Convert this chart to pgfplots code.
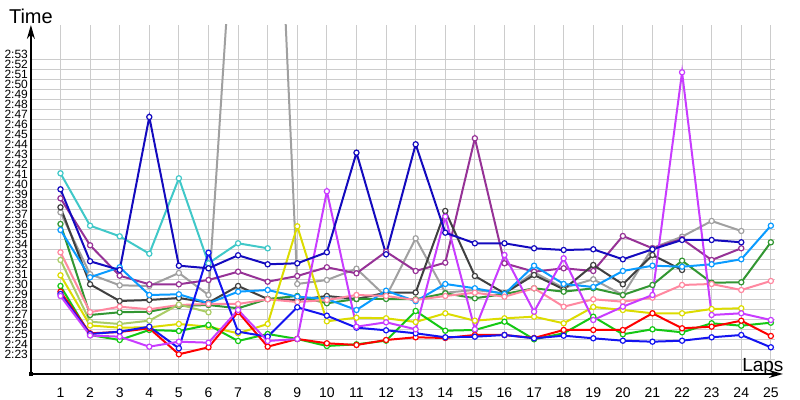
\documentclass[border=0pt]{standalone}
\usepackage{pgfplots}
\pgfplotsset{compat=1.18}
\usepackage{fontspec}
\setmainfont{Liberation Sans}
\usetikzlibrary{arrows.meta}
\definecolor{scyan}{RGB}{64,200,200}
\definecolor{snavy}{RGB}{20,10,190}
\definecolor{spurple}{RGB}{150,50,150}
\definecolor{slgray}{RGB}{160,160,160}
\definecolor{sdgray}{RGB}{64,64,64}
\definecolor{sdgreen}{RGB}{50,150,50}
\definecolor{slblue}{RGB}{10,155,255}
\definecolor{spink}{RGB}{255,136,160}
\definecolor{sygreen}{RGB}{170,204,102}
\definecolor{syellow}{RGB}{220,220,0}
\definecolor{sbgreen}{RGB}{20,200,20}
\definecolor{sred}{RGB}{255,0,0}
\definecolor{sblue}{RGB}{20,20,240}
\definecolor{smag}{RGB}{200,60,255}
\begin{document}
\begin{tikzpicture}
\begin{axis}[
  at={(0,0)}, anchor=south west, name=ax,
  scale only axis, width=372.2pt, height=174.5pt,
  xmin=0, xmax=25.15, ymin=21.6, ymax=56.5,
  axis line style={draw=none},
  /pgf/number format/assume math mode=true,
  xtick={1,...,25}, ytick={23,...,53},
  yticklabels={2:23,2:24,2:25,2:26,2:27,2:28,2:29,2:30,2:31,2:32,2:33,2:34,2:35,2:36,2:37,2:38,2:39,2:40,2:41,2:42,2:43,2:44,2:45,2:46,2:47,2:48,2:49,2:50,2:51,2:52,2:53},
  tick style={draw=none},
  grid=major, major grid style={draw=black!20, line width=0.5pt},
  xticklabel style={font=\fontsize{7}{8}\selectfont, yshift=-3.3pt},
  yticklabel style={font=\fontsize{6}{7}\selectfont, anchor=base east, inner sep=0pt, xshift=-1.3pt, yshift=0.85pt},
  every axis plot/.append style={line width=1pt, mark=*, mark size=1.3pt, mark options={fill=white, line width=0.6pt}},
]
\addplot[scyan] coordinates {(1,41.67)(2,36.43)(3,35.37)(4,33.63)(5,41.17)(6,32.67)(7,34.67)(8,34.17)};
\addplot[slgray] coordinates {(1,37.77)(2,31.58)(3,30.47)(4,30.4)(5,31.7)(6,29.5)(7,75)(8,97)(9,30.6)(10,31.0)(11,32.13)(12,29.33)(13,35.17)(14,29.73)(15,30.0)(16,29.67)(17,31.77)(18,30.2)(19,31.07)(20,29.5)(21,34.2)(22,35.33)(23,36.9)(24,35.9)};
\addplot[spurple] coordinates {(1,39.17)(2,34.47)(3,31.43)(4,30.57)(5,30.57)(6,31.0)(7,31.83)(8,30.83)(9,31.4)(10,32.27)(11,31.67)(12,33.83)(13,31.9)(14,32.73)(15,45.17)(16,32.67)(17,31.83)(18,32.17)(19,31.9)(20,35.4)(21,34.17)(22,35.1)(23,33.0)(24,34.17)};
\addplot[sdgray] coordinates {(1,38.27)(2,30.57)(3,28.9)(4,29.0)(5,29.2)(6,28.73)(7,30.4)(8,29.1)(9,29.0)(10,29.4)(11,29.1)(12,29.73)(13,29.75)(14,37.9)(15,31.4)(16,29.67)(17,31.5)(18,30.07)(19,32.5)(20,30.57)(21,33.5)(22,32.0)};
\addplot[sdgreen] coordinates {(1,36.6)(2,27.5)(3,27.77)(4,27.83)(5,28.4)(6,28.5)(7,28.17)(8,29.1)(9,29.4)(10,28.67)(11,29.1)(12,29.1)(13,29.07)(14,29.67)(15,29.17)(16,29.6)(17,30.17)(18,29.83)(19,30.17)(20,29.5)(21,30.5)(22,32.93)(23,30.73)(24,30.77)(25,34.77)};
\addplot[slblue] coordinates {(1,36.0)(2,31.27)(3,32.27)(4,29.5)(5,29.57)(6,28.67)(7,29.83)(8,30.0)(9,29.33)(10,29.1)(11,28.0)(12,29.93)(13,28.88)(14,30.6)(15,30.17)(16,29.6)(17,32.43)(18,30.6)(19,30.3)(20,31.9)(21,32.43)(22,32.33)(23,32.57)(24,33.07)(25,36.43)};
\addplot[spink] coordinates {(1,33.77)(2,27.78)(3,28.33)(4,28.07)(5,28.5)(6,28.6)(7,28.6)(8,29.07)(9,28.8)(10,29.0)(11,29.5)(12,29.4)(13,29.0)(14,29.4)(15,29.73)(16,29.33)(17,30.17)(18,28.33)(19,29.07)(20,28.83)(21,29.23)(22,30.5)(23,30.6)(24,30.0)(25,30.9)};
\addplot[sygreen] coordinates {(1,33.0)(2,26.83)(3,26.6)(4,26.93)(5,28.55)(6,27.77)};
\addplot[syellow] coordinates {(1,31.47)(2,26.45)(3,26.23)(4,26.27)(5,26.6)(6,26.33)(7,25.67)(8,26.6)(9,36.37)(10,26.87)(11,27.23)(12,27.17)(13,26.8)(14,27.67)(15,26.93)(16,27.17)(17,27.33)(18,26.67)(19,28.3)(20,28.0)(21,27.67)(22,27.67)(23,28.1)(24,28.17)};
\addplot[sbgreen] coordinates {(1,30.4)(2,25.5)(3,25.0)(4,26.0)(5,25.9)(6,26.5)(7,24.9)(8,25.6)(9,25.1)(10,24.4)(11,24.57)(12,24.93)(13,27.9)(14,25.93)(15,26.0)(16,26.83)(17,25.07)(18,25.67)(19,27.33)(20,25.57)(21,26.07)(22,25.77)(23,26.67)(24,26.43)(25,26.73)};
\addplot[sred] coordinates {(1,29.83)(2,25.67)(3,25.8)(4,26.17)(5,23.57)(6,24.27)(7,27.8)(8,24.33)(9,25.1)(10,24.67)(11,24.5)(12,25.0)(13,25.27)(14,25.2)(15,25.5)(16,25.5)(17,25.2)(18,26.0)(19,26.0)(20,26.0)(21,27.67)(22,26.17)(23,26.33)(24,26.93)(25,25.4)};
\addplot[sblue] coordinates {(1,29.6)(2,25.6)(3,25.83)(4,26.33)(5,24.17)(6,33.73)(7,25.83)(8,25.33)(9,28.27)(10,27.43)(11,26.23)(12,25.97)(13,25.67)(14,25.27)(15,25.33)(16,25.5)(17,25.17)(18,25.43)(19,25.17)(20,24.93)(21,24.83)(22,24.93)(23,25.27)(24,25.5)(25,24.27)};
\addplot[smag] coordinates {(1,29.4)(2,25.45)(3,25.33)(4,24.33)(5,24.83)(6,24.73)(7,28.0)(8,24.9)(9,25.1)(10,39.87)(11,26.33)(12,26.77)(13,26.07)(14,37.33)(15,26.07)(16,33.5)(17,27.83)(18,33.17)(19,27.0)(20,28.33)(21,29.5)(22,51.77)(23,27.5)(24,27.67)(25,27.0)};
\addplot[snavy] coordinates {(1,40.07)(2,32.87)(3,32.0)(4,47.3)(5,32.43)(6,32.17)(7,33.47)(8,32.57)(9,32.67)(10,33.77)(11,43.73)(12,33.57)(13,44.57)(14,35.73)(15,34.67)(16,34.67)(17,34.17)(18,34.0)(19,34.07)(20,33.07)(21,34.07)(22,35.0)(23,35.0)(24,34.77)};
\end{axis}
\draw[line width=0.8pt, -{Stealth[length=7pt, width=4pt]}] (0,0) -- (376pt,0);
\draw[line width=0.8pt, -{Stealth[length=7pt, width=4pt]}] (0,0) -- (0,174.5pt);
\fill (-1pt,-1pt) rectangle (1pt,1pt);
\node[anchor=base, inner sep=0pt, font=\fontsize{10}{12}\selectfont] at (0,175pt) {Time};
\node[anchor=base, inner sep=0pt, font=\fontsize{9.5}{11}\selectfont] at (366pt,1pt) {Laps};
\pgfresetboundingbox
\path (-15.45pt,-13pt) rectangle (384.55pt,187pt);
\end{tikzpicture}
\end{document}
